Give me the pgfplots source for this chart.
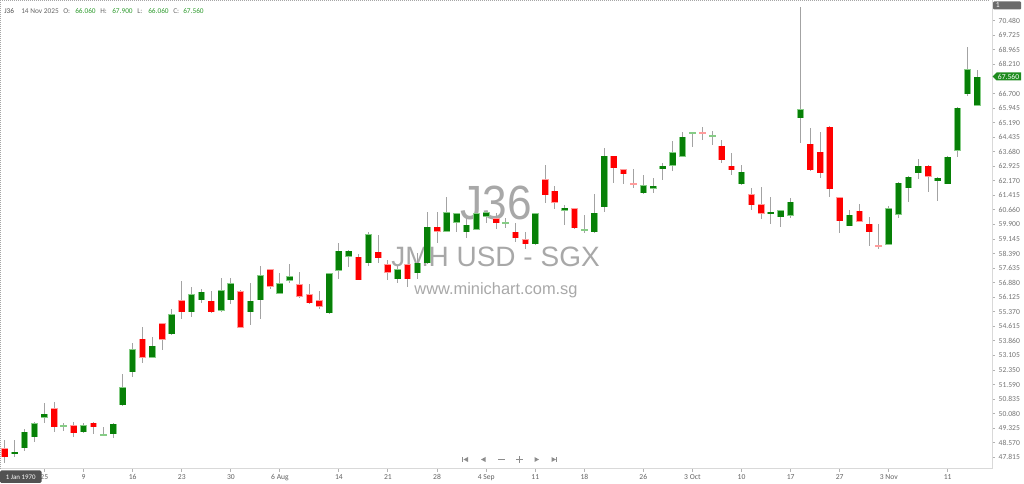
\documentclass[border=0pt]{standalone}
\usepackage{pgfplots}
\pgfplotsset{compat=1.18}
\usepackage{pgfplotstable}
\usepackage{fontspec}
\setmainfont{Carlito}
\newfontfamily\arial{Liberation Sans}
\definecolor{cgreen}{HTML}{078007}
\definecolor{cgreenl}{HTML}{86CC86}
\definecolor{cred}{HTML}{FF0000}
\definecolor{credl}{HTML}{FF9C9C}
\definecolor{wick}{HTML}{A3A3A3}
\definecolor{hdrgreen}{HTML}{2E9B2E}
\definecolor{tagg}{HTML}{1F8C1F}
\definecolor{wm}{HTML}{A8A8A8}

\pgfplotstableread{
i O H L C
0 48.29 48.72 47.52 47.82
1 47.99 48.72 47.83 48.10
2 48.29 49.27 48.16 49.15
3 48.86 49.64 48.63 49.58
4 49.87 50.62 49.62 50.07
5 50.36 50.67 49.15 49.38
6 49.46 49.62 49.20 49.48
7 49.48 49.67 48.89 49.07
8 49.12 49.58 49.07 49.48
9 49.62 49.64 49.01 49.38
10 48.97 49.41 48.93 48.99
11 49.01 49.62 48.84 49.55
12 50.53 52.14 50.48 51.45
13 52.23 53.74 51.97 53.44
14 53.98 54.57 52.70 52.99
15 52.99 54.05 52.97 53.61
16 54.78 54.80 53.39 53.91
17 54.20 55.50 54.18 55.24
18 55.98 56.97 54.98 55.34
19 55.34 56.67 55.09 56.28
20 55.98 56.54 55.81 56.42
21 55.95 56.45 55.32 55.34
22 55.43 57.11 55.38 56.50
23 55.98 57.11 55.78 56.85
24 56.45 56.50 54.52 54.55
25 55.34 56.88 54.69 55.95
26 55.98 57.75 55.00 57.28
27 57.58 57.60 56.54 56.67
28 56.30 57.37 56.28 56.85
29 56.98 57.85 56.88 57.23
30 56.81 57.45 56.07 56.15
31 56.28 56.81 55.78 55.81
32 55.98 56.45 55.50 55.64
33 55.29 57.40 55.26 57.37
34 57.50 58.93 57.06 58.53
35 58.23 58.56 57.68 58.54
36 58.23 58.37 57.00 57.02
37 57.89 59.53 57.76 59.39
38 58.48 59.36 57.89 58.15
39 57.85 58.06 57.02 57.40
40 57.07 57.75 56.85 57.58
41 57.85 57.87 56.64 57.07
42 57.37 58.41 57.06 57.92
43 57.89 60.54 57.87 59.79
44 59.79 60.54 58.93 59.53
45 59.53 61.31 59.51 60.54
46 60.00 60.50 59.53 60.48
47 59.50 60.22 59.19 59.88
48 59.62 60.50 59.60 60.48
49 60.30 60.56 59.96 60.54
50 60.22 60.48 59.65 59.96
51 59.95 60.22 59.70 59.97
52 59.53 59.96 59.01 59.19
53 59.15 59.53 58.63 58.87
54 58.87 60.50 58.85 60.48
55 62.26 62.99 61.00 61.43
56 61.66 61.92 60.69 61.03
57 60.62 60.92 59.88 60.78
58 60.74 60.76 59.68 59.70
59 59.60 60.40 59.44 59.63
60 59.50 61.48 59.48 60.52
61 60.80 63.86 60.54 63.47
62 63.46 63.48 62.04 62.82
63 62.78 62.80 61.99 62.51
64 62.00 62.77 61.78 61.98
65 61.52 62.47 61.50 61.95
66 61.77 62.30 61.55 61.91
67 62.77 63.08 62.21 62.95
68 62.95 64.25 62.70 63.65
69 63.42 64.72 63.40 64.46
70 64.66 64.70 63.94 64.68
71 64.68 64.98 64.29 64.66
72 64.46 64.77 64.03 64.51
73 63.98 64.29 63.08 63.25
74 62.95 63.60 62.47 62.73
75 61.99 62.99 61.97 62.64
76 61.48 61.78 60.65 60.91
77 60.95 61.86 60.19 60.45
78 60.48 61.31 59.93 60.57
79 60.27 60.67 59.79 60.65
80 60.36 61.26 60.22 61.09
81 65.41 71.18 64.15 65.88
82 64.08 64.89 62.70 62.73
83 63.68 64.69 62.30 62.56
84 64.98 65.00 61.34 61.73
85 61.31 61.33 59.48 60.08
86 59.82 60.65 59.80 60.40
87 60.62 60.97 60.03 60.05
88 59.93 60.28 58.79 59.50
89 58.79 59.93 58.62 58.74
90 58.84 60.86 58.82 60.74
91 60.40 62.09 60.22 62.07
92 61.78 62.40 61.09 62.38
93 62.56 63.29 62.25 62.94
94 62.95 62.97 61.57 62.38
95 62.16 62.35 61.12 62.33
96 62.00 63.44 61.98 63.42
97 63.73 65.98 63.42 65.96
98 66.66 69.13 66.59 67.97
99 66.06 67.90 66.06 67.56
}\candles

\newcommand{\tfont}{\fontsize{5.7}{6.5}\selectfont}

\begin{document}
\begin{tikzpicture}
\useasboundingbox (0,0) rectangle (768pt,363pt);
% watermark (pixel coordinates)
\begin{scope}[x=0.75pt,y=-0.75pt,yshift=363pt]
  \node[anchor=base, inner sep=0pt, text=wm, font=\arial\fontsize{36}{40}\selectfont, xscale=0.92] at (496.5,220) {J36};
  \node[anchor=base, inner sep=0pt, text=wm, font=\arial\fontsize{21}{24}\selectfont] at (495.5,267) {JMH USD - SGX};
  \node[anchor=base, inner sep=0pt, text=wm, font=\arial\fontsize{12.3}{14}\selectfont] at (496,294.5) {www.minichart.com.sg};
\end{scope}
\begin{axis}[
  at={(0pt,11.25pt)}, anchor=south west,
  width=744pt, height=351.75pt, scale only axis,
  xmin=-0.509, xmax=100.51, ymin=47.213, ymax=71.554,
  axis x line*=bottom, axis y line*=right,
  axis line style={draw=black!15, line width=0.75pt},
  tick align=outside, major tick length=2.25pt,
  tick style={draw=black!30, line width=0.75pt},
  xtick={4,8,13,18,23,28,34,39,44,49,54,59,65,70,75,80,85,90,96},
  xticklabels={25,9,16,23,30,6 Aug,14,21,28,4 Sep,11,18,26,3 Oct,10,17,27,3 Nov,11},
  ytick={47.815,48.570,49.325,50.080,50.835,51.590,52.350,53.105,53.860,54.615,55.370,56.125,56.880,57.635,58.390,59.145,59.900,60.660,61.415,62.170,62.925,63.680,64.435,65.190,65.945,66.700,68.210,68.965,69.725,70.480},
  yticklabels={47.815,48.570,49.325,50.080,50.835,51.590,52.350,53.105,53.860,54.615,55.370,56.125,56.880,57.635,58.390,59.145,59.900,60.660,61.415,62.170,62.925,63.680,64.435,65.190,65.945,66.700,68.210,68.965,69.725,70.480},
  xticklabel style={font=\tfont, text=black!62, inner sep=0pt, anchor=north, yshift=-1.6pt},
  yticklabel style={font=\tfont, text=black!55, inner sep=0pt, anchor=west, xshift=2.6pt},
  clip=true,
]
% wicks
\addplot[draw=none, mark=none, forget plot,
  error bars/.cd, y dir=both, y explicit, error mark=none,
  error bar style={draw=wick, line width=0.75pt}]
  table[x=i, y expr={(\thisrow{H}+\thisrow{L})/2}, y error expr={(\thisrow{H}-\thisrow{L})/2}] {\candles};
% green bodies
\addplot[draw=none, mark=none, forget plot,
  error bars/.cd, y dir=both, y explicit, error mark=none,
  error bar style={draw=cgreenl, line width=5.25pt}]
  table[x=i, y expr={\thisrow{C}>=\thisrow{O} ? (\thisrow{O}+\thisrow{C})/2 : nan}, y error expr={max(abs(\thisrow{C}-\thisrow{O})/2, 0.052)}] {\candles};
\addplot[draw=none, mark=none, forget plot,
  error bars/.cd, y dir=both, y explicit, error mark=none,
  error bar style={draw=cgreen, line width=4.2pt}]
  table[x=i, y expr={\thisrow{C}>=\thisrow{O} ? (\thisrow{O}+\thisrow{C})/2 : nan}, y error expr={max(abs(\thisrow{C}-\thisrow{O})/2-0.026, 0)}] {\candles};
% red bodies
\addplot[draw=none, mark=none, forget plot,
  error bars/.cd, y dir=both, y explicit, error mark=none,
  error bar style={draw=credl, line width=5.25pt}]
  table[x=i, y expr={\thisrow{C}<\thisrow{O} ? (\thisrow{O}+\thisrow{C})/2 : nan}, y error expr={max(abs(\thisrow{C}-\thisrow{O})/2, 0.052)}] {\candles};
\addplot[draw=none, mark=none, forget plot,
  error bars/.cd, y dir=both, y explicit, error mark=none,
  error bar style={draw=cred, line width=4.2pt}]
  table[x=i, y expr={\thisrow{C}<\thisrow{O} ? (\thisrow{O}+\thisrow{C})/2 : nan}, y error expr={max(abs(\thisrow{C}-\thisrow{O})/2-0.026, 0)}] {\candles};
\end{axis}
\begin{scope}[x=0.75pt,y=-0.75pt,yshift=363pt]
  % dotted frame
  \draw[black!35, line width=0.75pt, dash pattern=on 0.75pt off 0.75pt] (0,0.5) -- (990,0.5);
  \draw[black!35, line width=0.75pt, dash pattern=on 0.75pt off 0.75pt] (0.5,0) -- (0.5,469);
  % header
  \begin{scope}[every node/.style={anchor=base west, inner sep=0pt, font=\fontsize{5.5}{6.5}\selectfont}]
    \node[text=black!70] at (4,14) {J36};
    \node[text=black!60] at (21,14) {14 Nov 2025};
    \node[text=black!60] at (63,14) {O:};
    \node[text=hdrgreen] at (75,14) {66.060};
    \node[text=black!60] at (100,14) {H:};
    \node[text=hdrgreen] at (112,14) {67.900};
    \node[text=black!60] at (137,14) {L:};
    \node[text=hdrgreen] at (148,14) {66.060};
    \node[text=black!60] at (173,14) {C:};
    \node[text=hdrgreen] at (183,14) {67.560};
  \end{scope}
  % top-right box
  \fill[black!58, rounded corners=0.75pt] (993,1.5) rectangle (1021,9.5);
  \node[anchor=west, inner sep=0pt, text=white, font=\tfont] at (995.5,5.5) {1};
  % last price tag
  \fill[tagg] (992.5,76.5) -- (996.5,72.5) -- (1021,72.5) -- (1021,80.5) -- (996.5,80.5) -- cycle;
  \node[anchor=center, inner sep=0pt, text=white, font=\tfont] at (1008.5,76.5) {67.560};
  % 1 Jan 1970 box
  \fill[black!68, rounded corners=1pt] (0,470.5) rectangle (41.5,483);
  \node[anchor=center, inner sep=0pt, text=white, font=\fontsize{5.2}{6}\selectfont] at (20.75,476.8) {1 Jan 1970};
  % navigation icons
  \begin{scope}[black!45]
    \fill (462,457) rectangle (463,462);
    \fill (468,457) -- (468,462) -- (463.5,459.5) -- cycle;
    \fill (485.5,457) -- (485.5,462) -- (481,459.5) -- cycle;
    \fill (498,459) rectangle (504.5,460);
    \fill (515.5,459) rectangle (522.5,460);
    \fill (518.5,456) rectangle (519.5,463);
    \fill (534.5,457) -- (534.5,462) -- (539,459.5) -- cycle;
    \fill (551.5,457) -- (551.5,462) -- (556,459.5) -- cycle;
    \fill (556,457) rectangle (557,462);
  \end{scope}
\end{scope}
\end{tikzpicture}
\end{document}
